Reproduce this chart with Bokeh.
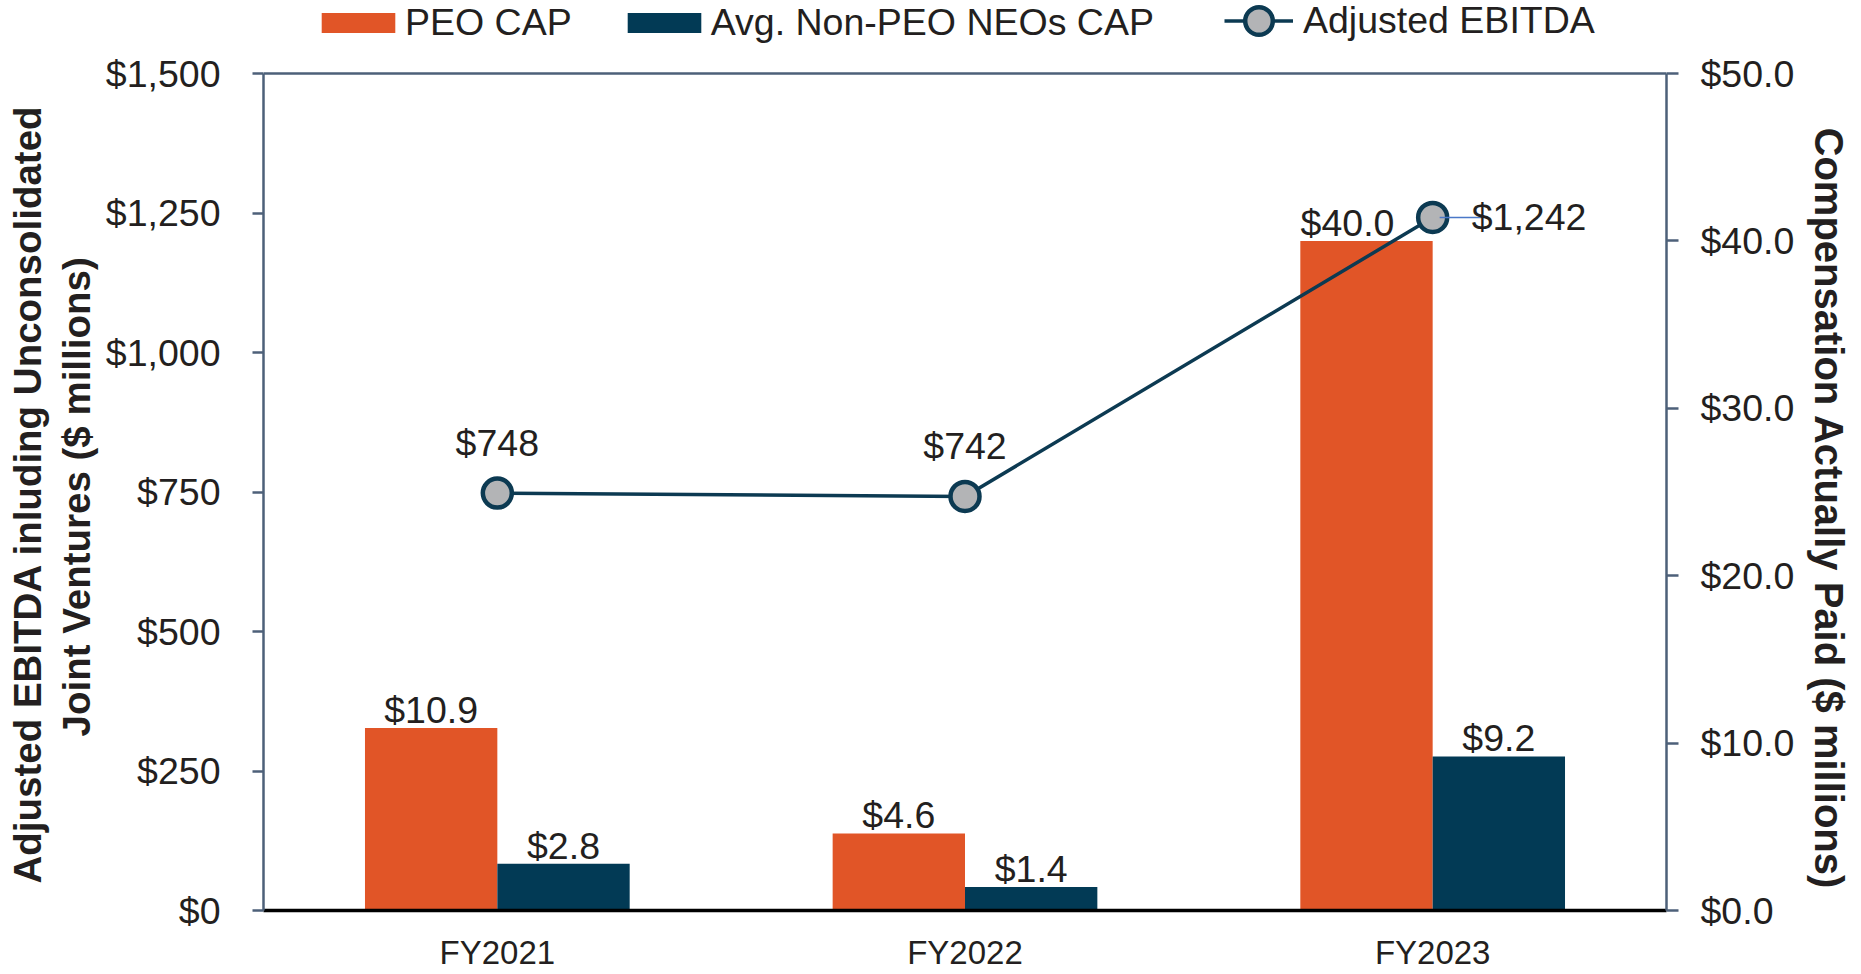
from bokeh.plotting import figure
from bokeh.models import (ColumnDataSource, FactorRange, Range1d, LinearAxis, FixedTicker,
                          NumeralTickFormatter, Legend, LegendItem, Title, Span)
from bokeh.transform import dodge
from bokeh.core.properties import value
from bokeh.embed import file_html
from bokeh.resources import INLINE

# ---- data ----
years = ["FY2021", "FY2022", "FY2023"]
peo_cap = [10.9, 4.6, 40.0]
neo_cap = [2.8, 1.4, 9.2]
ebitda = [748, 742, 1242]
peo_labels = ["$10.9", "$4.6", "$40.0"]
neo_labels = ["$2.8", "$1.4", "$9.2"]
ebitda_labels = ["$748", "$742", "$1,242"]
left_ticks = [0, 250, 500, 750, 1000, 1250, 1500]
right_ticks = [0, 10, 20, 30, 40, 50]
left_max, right_max = 1500, 50

# ---- style / layout ----
ORANGE = "#E15527"
NAVY = "#023A55"
SLATE = "#4D6079"
LINEC = "#0C3A52"
GRAY = "#B3B4B6"
LEADER = "#4A78C8"
TXT = "#231F20"
FONT = "Liberation Sans"
FS = "37.5px"
BW = 0.283
FRAME_TOP, FRAME_BOTTOM = 73, 910          # pixel rows of the axis max and of zero
HEADROOM = FRAME_BOTTOM / (FRAME_BOTTOM - FRAME_TOP)   # frame reaches page top (legend area)

src = ColumnDataSource(dict(year=years, peo=peo_cap, neo=neo_cap, ebitda=ebitda,
                            peo_lbl=peo_labels, neo_lbl=neo_labels, eb_lbl=ebitda_labels))
src_pa = ColumnDataSource(dict(year=years[:2], peo=peo_cap[:2], peo_lbl=peo_labels[:2]))
src_pb = ColumnDataSource(dict(year=years[2:], peo=peo_cap[2:], peo_lbl=peo_labels[2:]))
src_a = ColumnDataSource(dict(year=years[:2], ebitda=ebitda[:2], eb_lbl=ebitda_labels[:2]))
src_b = ColumnDataSource(dict(year=years[2:], ebitda=ebitda[2:], eb_lbl=ebitda_labels[2:]))

p = figure(x_range=FactorRange(*years, range_padding=0),
           y_range=Range1d(0, left_max * HEADROOM),
           width=1861, height=974, output_backend="svg", toolbar_location=None,
           min_border_left=263, min_border_right=193, min_border_top=0,
           min_border_bottom=974 - FRAME_BOTTOM)
p.extra_y_ranges = {"comp": Range1d(0, right_max * HEADROOM)}
p.xgrid.visible = False
p.ygrid.visible = False
p.outline_line_color = None
p.background_fill_color = "white"
p.border_fill_color = "white"

# top border of the plot area (at the axis maximum)
p.add_layout(Span(location=left_max, dimension="width", line_color=SLATE, line_width=2.5))

r_peo = p.vbar(x=dodge("year", -BW / 2, range=p.x_range), top="peo", width=BW, source=src,
               y_range_name="comp", fill_color=ORANGE, line_color=None)
r_neo = p.vbar(x=dodge("year", BW / 2, range=p.x_range), top="neo", width=BW, source=src,
               y_range_name="comp", fill_color=NAVY, line_color=None)
r_line = p.line(x="year", y="ebitda", source=src, line_color=LINEC, line_width=3.5)
r_pts = p.scatter(x="year", y="ebitda", source=src, size=29, fill_color=GRAY,
                  line_color=LINEC, line_width=4.5)

# bar labels
p.text(x=dodge("year", -BW / 2, range=p.x_range), y="peo", text="peo_lbl", source=src_pa,
       y_range_name="comp", text_align="center", text_baseline="middle", y_offset=-18,
       text_font=value(FONT), text_font_size=FS, text_color=TXT)
p.text(x=dodge("year", -BW / 2, range=p.x_range), y="peo", text="peo_lbl", source=src_pb,
       y_range_name="comp", text_align="center", text_baseline="middle", y_offset=-18,
       x_offset=-19, text_font=value(FONT), text_font_size=FS, text_color=TXT)
p.text(x=dodge("year", BW / 2, range=p.x_range), y="neo", text="neo_lbl", source=src,
       y_range_name="comp", text_align="center", text_baseline="middle", y_offset=-18,
       text_font=value(FONT), text_font_size=FS, text_color=TXT)

# ebitda labels (first two above, last one to the right with a leader line)
p.text(x="year", y="ebitda", text="eb_lbl", source=src_a, text_align="center",
       text_baseline="middle", y_offset=-50, text_font=value(FONT),
       text_font_size=FS, text_color=TXT)
p.segment(x0=dodge("year", 0.015, range=p.x_range), y0="ebitda",
          x1=dodge("year", 0.111, range=p.x_range), y1="ebitda", source=src_b,
          line_color=LEADER, line_width=1.5)
p.text(x="year", y="ebitda", text="eb_lbl", source=src_b, text_align="left",
       text_baseline="middle", x_offset=39, text_font=value(FONT),
       text_font_size=FS, text_color=TXT)

# x axis
p.xaxis.axis_line_color = "black"
p.xaxis.axis_line_width = 3.5
p.xaxis.major_tick_line_color = None
p.xaxis.major_tick_out = 0
p.xaxis.major_tick_in = 0
p.xaxis.minor_tick_line_color = None
p.xaxis.major_label_text_font = FONT
p.xaxis.major_label_text_font_size = "33px"
p.xaxis.major_label_text_color = TXT
p.xaxis.major_label_standoff = 23

# left axis
ly = p.yaxis[0]
ly.bounds = (0, left_max)
ly.ticker = FixedTicker(ticks=left_ticks)
ly.formatter = NumeralTickFormatter(format="$0,0")
ly.axis_line_color = SLATE
ly.axis_line_width = 2.5
ly.major_tick_line_color = SLATE
ly.major_tick_line_width = 2.5
ly.major_tick_out = 11
ly.major_tick_in = 0
ly.minor_tick_line_color = None
ly.major_label_text_font = FONT
ly.major_label_text_font_size = FS
ly.major_label_text_color = TXT
ly.major_label_standoff = 32

# left axis title, two lines
lt2 = Title(text="Joint Ventures ($ millions)", align="left", offset=174,
            text_font=FONT, text_font_style="bold", text_font_size="38.5px",
            text_color=TXT, standoff=9)
lt1 = Title(text="Adjusted EBITDA inluding Unconsolidated", align="left", offset=27,
            text_font=FONT, text_font_style="bold", text_font_size="38.5px",
            text_color=TXT, standoff=0)
p.add_layout(lt2, "left")
p.add_layout(lt1, "left")

# right axis
ry = LinearAxis(y_range_name="comp", ticker=FixedTicker(ticks=right_ticks),
                formatter=NumeralTickFormatter(format="$0.0"), bounds=(0, right_max))
ry.axis_line_color = SLATE
ry.axis_line_width = 2.5
ry.major_tick_line_color = SLATE
ry.major_tick_line_width = 2.5
ry.major_tick_out = 12
ry.major_tick_in = 0
ry.minor_tick_line_color = None
ry.major_label_text_font = FONT
ry.major_label_text_font_size = FS
ry.major_label_text_color = TXT
ry.major_label_standoff = 22
p.add_layout(ry, "right")

rtitle = Title(text="Compensation Actually Paid ($ millions)", align="left", offset=127,
               text_font=FONT, text_font_style="bold", text_font_size="40px",
               text_color=TXT, standoff=18)
p.add_layout(rtitle, "right")

# legends (inside the tall frame, above the axis maximum)
legend1 = Legend(items=[LegendItem(label="PEO CAP", renderers=[r_peo]),
                        LegendItem(label="Avg. Non-PEO NEOs CAP", renderers=[r_neo])],
                 orientation="horizontal", location=(49, 866),
                 label_text_font=FONT, label_text_font_size=FS, label_text_color=TXT,
                 glyph_width=92, glyph_height=25, label_standoff=1, spacing=46,
                 padding=0, margin=0, border_line_color=None, background_fill_alpha=0)
legend2 = Legend(items=[LegendItem(label="Adjusted EBITDA", renderers=[r_line, r_pts])],
                 orientation="horizontal", location=(961, 855),
                 label_text_font=FONT, label_text_font_size=FS, label_text_color=TXT,
                 glyph_width=69, glyph_height=69, label_standoff=10, spacing=0,
                 padding=0, margin=0, border_line_color=None, background_fill_alpha=0)
p.add_layout(legend1)
p.add_layout(legend2)

open("out.html", "w").write(file_html(p, INLINE))
